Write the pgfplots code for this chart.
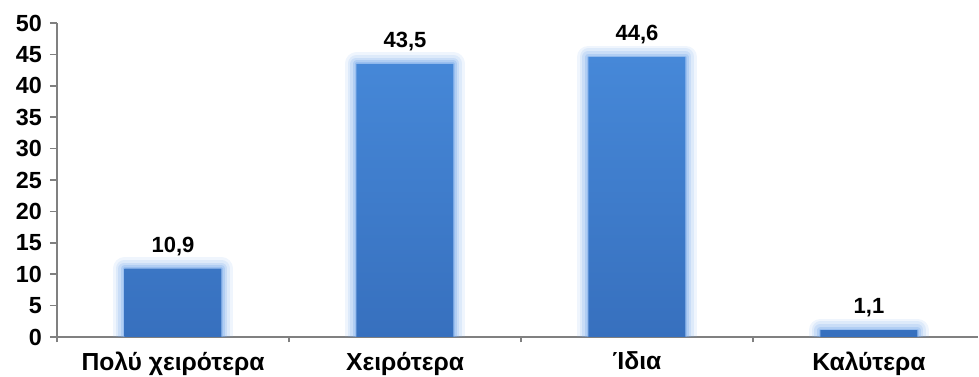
\documentclass[border=0pt]{standalone}
\usepackage{fontspec}
\setmainfont{Liberation Sans}
\usepackage{pgfplots}
\pgfplotsset{compat=1.18}
\definecolor{bartop}{RGB}{70,136,216}
\definecolor{barbot}{RGB}{55,112,190}
\definecolor{glow}{RGB}{120,170,235}
\definecolor{axgray}{RGB}{128,128,128}
\begin{document}
\begin{tikzpicture}
\begin{axis}[
  at={(0,0)}, anchor=south west,
  scale only axis,
  width=690.75pt, height=235.5pt,
  ybar, bar width=72.75pt,
  xmin=-0.5, xmax=3.47,
  ymin=0, ymax=50,
  axis lines*=left,
  axis line style={draw=axgray, line width=1.2pt},
  xtick={0,1,2,3},
  xticklabels={Πολύ χειρότερα, Χειρότερα, Ίδια, Καλύτερα},
  major x tick style={draw=none},
  minor xtick={-0.5,0.5,1.5,2.5},
  minor x tick style={draw=axgray, line width=1.2pt},
  minor tick length=4pt,
  ytick={0,5,...,50},
  y tick style={draw=axgray, line width=1.2pt},
  major tick length=5.25pt,
  tick align=outside,
  yticklabel style={font=\fontsize{17.5}{19}\selectfont\bfseries, xshift=-2.5pt},
  xticklabel style={font=\fontsize{18.5}{21}\selectfont\bfseries, yshift=-2.5pt},
  /pgf/number format/assume math mode=true,
  clip=true,
]
\addplot[bar shift=0pt, draw=glow, line width=17pt, draw opacity=0.12, fill=none, line join=round]
  coordinates {(0,10.9) (1,43.5) (2,44.6) (3,1.1)};
\addplot[bar shift=0pt, draw=glow, line width=13pt, draw opacity=0.15, fill=none, line join=round]
  coordinates {(0,10.9) (1,43.5) (2,44.6) (3,1.1)};
\addplot[bar shift=0pt, draw=glow, line width=9pt, draw opacity=0.2, fill=none, line join=round]
  coordinates {(0,10.9) (1,43.5) (2,44.6) (3,1.1)};
\addplot[bar shift=0pt, draw=glow, line width=5pt, draw opacity=0.3, fill=none, line join=round]
  coordinates {(0,10.9) (1,43.5) (2,44.6) (3,1.1)};
\addplot[bar shift=0pt, draw=glow, line width=2pt, draw opacity=0.4, fill=none, line join=round]
  coordinates {(0,10.9) (1,43.5) (2,44.6) (3,1.1)};
\addplot[bar shift=0pt, draw=none, top color=bartop, bottom color=barbot,
  nodes near coords,
  nodes near coords style={font=\fontsize{16.5}{19}\selectfont\bfseries, text=black, yshift=6pt,
    /pgf/number format/.cd, fixed, fixed zerofill, precision=1, use comma},
  ]
  coordinates {(0,10.9) (1,43.5) (2,44.6) (3,1.1)};
\end{axis}
\pgfresetboundingbox
\useasboundingbox (-42.75pt,-30pt) rectangle (691.5pt,252.75pt);
\end{tikzpicture}
\end{document}
